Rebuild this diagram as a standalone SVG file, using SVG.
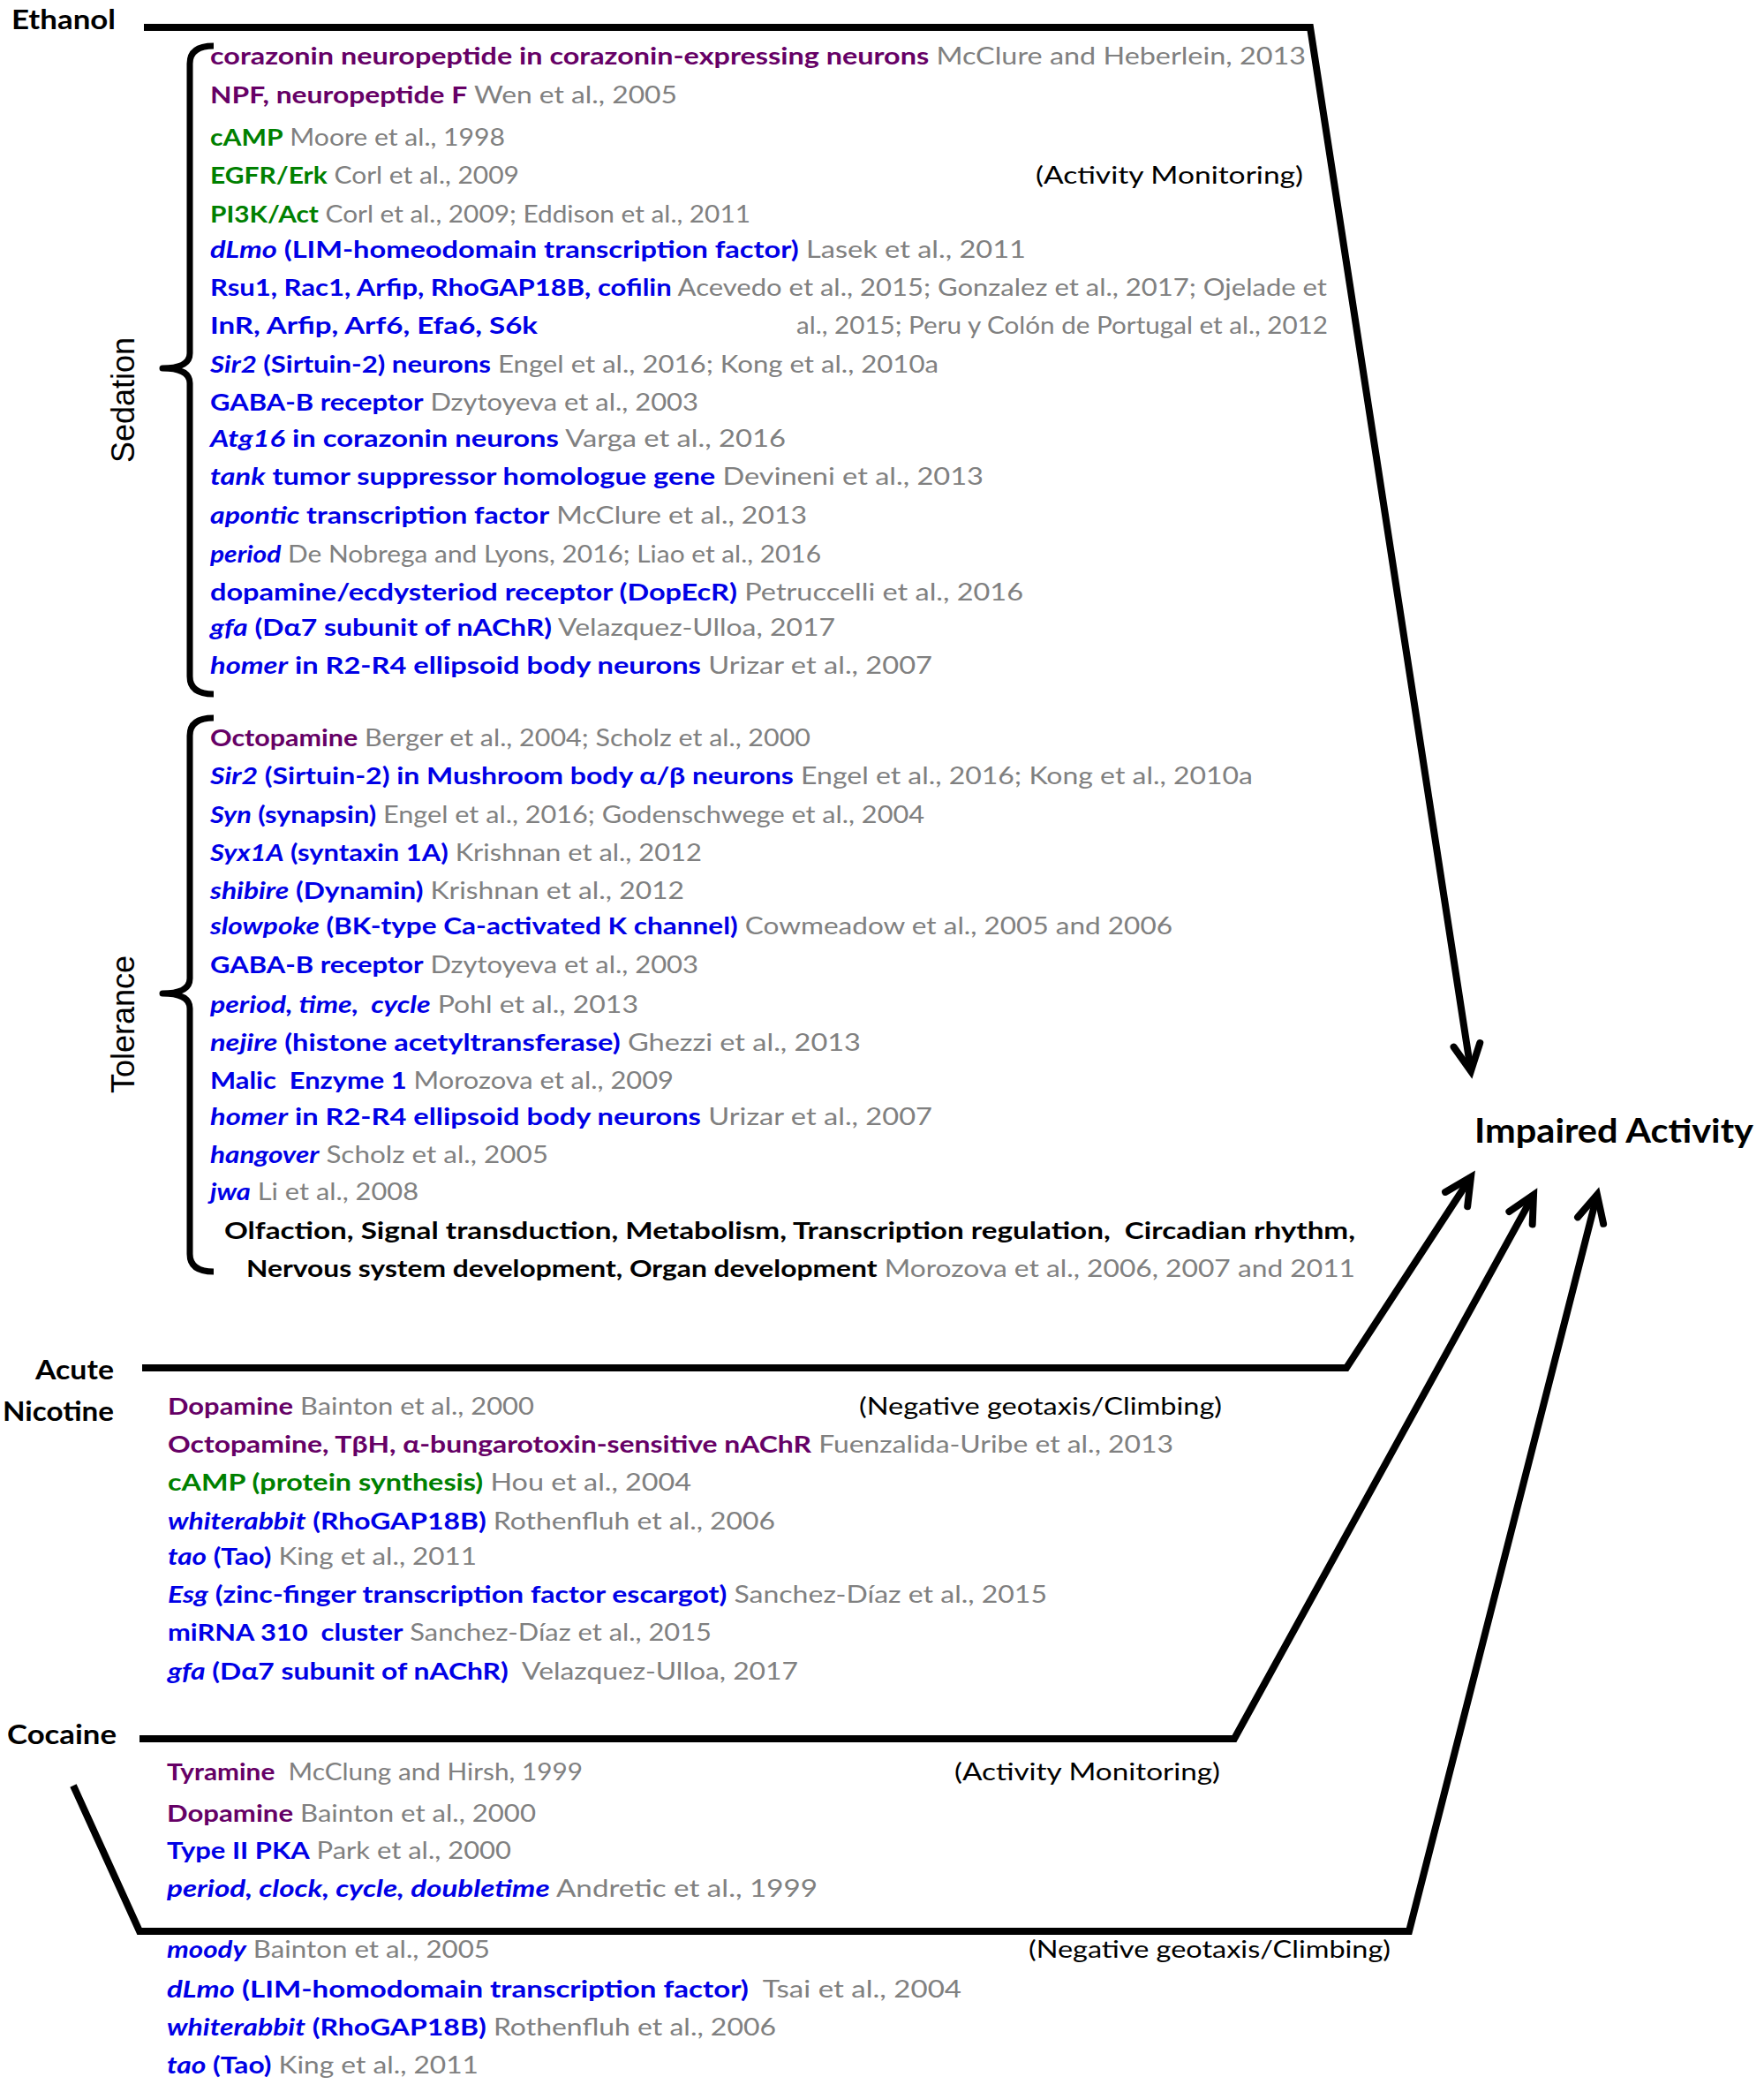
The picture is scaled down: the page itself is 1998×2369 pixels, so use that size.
<svg xmlns="http://www.w3.org/2000/svg" width="1998" height="2369" viewBox="0 0 1998 2369">
<style>
.r{font-family:Lato,"Open Sans","DejaVu Sans",sans-serif;font-size:27px;font-weight:700;fill:#0000e6}
.i{font-style:italic}
.p{fill:#660066}
.g{fill:#008000}
.k{fill:#000}
.c{fill:#808080;font-weight:400;font-style:normal}
.n{fill:#000;font-weight:400}
.lbl{font-family:Lato,"Open Sans","DejaVu Sans",sans-serif;font-size:31px;font-weight:700;fill:#000}
.big{font-family:Lato,"Open Sans","DejaVu Sans",sans-serif;font-size:38px;font-weight:700;fill:#000}
.side{font-family:"Liberation Sans",Arial,sans-serif;font-size:36px;fill:#000;text-anchor:middle}
.br{fill:none;stroke:#000;stroke-width:7;stroke-linejoin:round;stroke-linecap:butt}
.ln{fill:none;stroke:#000;stroke-width:8;stroke-linejoin:miter;stroke-linecap:butt}
</style>
<defs>
<marker id="chev" markerUnits="userSpaceOnUse" viewBox="-40 -30 60 60" markerWidth="60" markerHeight="60" refX="0" refY="0" orient="auto" overflow="visible">
<path d="M-30,-15 L0,0 L-30,15" fill="none" stroke="#000" stroke-width="8" stroke-linecap="round" stroke-linejoin="miter"/>
</marker>
</defs>
<rect width="1998" height="2369" fill="#fff"/>

<g id="connectors">
<polyline class="ln" points="163,31 1484,31 1666,1213" marker-end="url(#chev)"/>
<polyline class="ln" points="161,1549 1525,1549 1666,1333" marker-end="url(#chev)"/>
<polyline class="ln" points="158,1969 1398,1969 1737,1353" marker-end="url(#chev)"/>
<polyline class="ln" points="83,2022 158,2187 1596,2187 1809,1353" marker-end="url(#chev)"/>
</g>

<g id="ethanol">
<text class="lbl" x="13" y="33" textLength="118" lengthAdjust="spacingAndGlyphs">Ethanol</text>
</g>

<g id="sedation">
<path class="br" d="M242,52 Q215,52 215,72 L215,400 Q215,417 184,417 Q215,417 215,434 L215,766 Q215,786 242,786"/>
<text class="side" transform="translate(152,453) rotate(-90)">Sedation</text>
<text class="r" xml:space="preserve" x="238" y="73" textLength="1241" lengthAdjust="spacingAndGlyphs"><tspan class="p">corazonin neuropeptide in corazonin-expressing neurons</tspan><tspan class="c"> McClure and Heberlein, 2013</tspan></text>
<text class="r" xml:space="preserve" x="238" y="117" textLength="529" lengthAdjust="spacingAndGlyphs"><tspan class="p">NPF, neuropeptide F</tspan><tspan class="c"> Wen et al., 2005</tspan></text>
<text class="r" xml:space="preserve" x="238" y="165" textLength="334" lengthAdjust="spacingAndGlyphs"><tspan class="g">cAMP</tspan><tspan class="c"> Moore et al., 1998</tspan></text>
<text class="r" xml:space="preserve" x="238" y="208" textLength="350" lengthAdjust="spacingAndGlyphs"><tspan class="g">EGFR/Erk</tspan><tspan class="c"> Corl et al., 2009</tspan></text>
<text class="r n" x="1173" y="208" textLength="303" lengthAdjust="spacingAndGlyphs">(Activity Monitoring)</text>
<text class="r" xml:space="preserve" x="238" y="252" textLength="612" lengthAdjust="spacingAndGlyphs"><tspan class="g">PI3K/Act</tspan><tspan class="c"> Corl et al., 2009; Eddison et al., 2011</tspan></text>
<text class="r" xml:space="preserve" x="238" y="292" textLength="924" lengthAdjust="spacingAndGlyphs"><tspan class="i">dLmo</tspan><tspan> (LIM-homeodomain transcription factor)</tspan><tspan class="c"> Lasek et al., 2011</tspan></text>
<text class="r" xml:space="preserve" x="238" y="335" textLength="1265" lengthAdjust="spacingAndGlyphs"><tspan>Rsu1, Rac1, Arfip, RhoGAP18B, cofilin</tspan><tspan class="c"> Acevedo et al., 2015; Gonzalez et al., 2017; Ojelade et</tspan></text>
<text class="r" x="238" y="378" textLength="371" lengthAdjust="spacingAndGlyphs">InR, Arfip, Arf6, Efa6, S6k</text>
<text class="r c" x="902" y="378" textLength="602" lengthAdjust="spacingAndGlyphs">al., 2015; Peru y Colón de Portugal et al., 2012</text>
<text class="r" xml:space="preserve" x="238" y="422" textLength="825" lengthAdjust="spacingAndGlyphs"><tspan class="i">Sir2</tspan><tspan> (Sirtuin-2) neurons</tspan><tspan class="c"> Engel et al., 2016; Kong et al., 2010a</tspan></text>
<text class="r" xml:space="preserve" x="238" y="465" textLength="553" lengthAdjust="spacingAndGlyphs"><tspan>GABA-B receptor</tspan><tspan class="c"> Dzytoyeva et al., 2003</tspan></text>
<text class="r" xml:space="preserve" x="238" y="506" textLength="652" lengthAdjust="spacingAndGlyphs"><tspan class="i">Atg16</tspan><tspan> in corazonin neurons</tspan><tspan class="c"> Varga et al., 2016</tspan></text>
<text class="r" xml:space="preserve" x="238" y="549" textLength="876" lengthAdjust="spacingAndGlyphs"><tspan class="i">tank</tspan><tspan> tumor suppressor homologue gene</tspan><tspan class="c"> Devineni et al., 2013</tspan></text>
<text class="r" xml:space="preserve" x="238" y="593" textLength="676" lengthAdjust="spacingAndGlyphs"><tspan class="i">apontic</tspan><tspan> transcription factor</tspan><tspan class="c"> McClure et al., 2013</tspan></text>
<text class="r" xml:space="preserve" x="238" y="637" textLength="692" lengthAdjust="spacingAndGlyphs"><tspan class="i">period</tspan><tspan class="c"> De Nobrega and Lyons, 2016; Liao et al., 2016</tspan></text>
<text class="r" xml:space="preserve" x="238" y="680" textLength="921" lengthAdjust="spacingAndGlyphs"><tspan>dopamine/ecdysteriod receptor (DopEcR)</tspan><tspan class="c"> Petruccelli et al., 2016</tspan></text>
<text class="r" xml:space="preserve" x="238" y="720" textLength="708" lengthAdjust="spacingAndGlyphs"><tspan class="i">gfa</tspan><tspan> (Dα7 subunit of nAChR)</tspan><tspan class="c"> Velazquez-Ulloa, 2017</tspan></text>
<text class="r" xml:space="preserve" x="238" y="763" textLength="818" lengthAdjust="spacingAndGlyphs"><tspan class="i">homer</tspan><tspan> in R2-R4 ellipsoid body neurons</tspan><tspan class="c"> Urizar et al., 2007</tspan></text>
</g>

<g id="tolerance">
<path class="br" d="M242,813 Q215,813 215,833 L215,1108 Q215,1125 184,1125 Q215,1125 215,1142 L215,1420 Q215,1440 242,1440"/>
<text class="side" transform="translate(152,1160) rotate(-90)">Tolerance</text>
<text class="r" xml:space="preserve" x="238" y="845" textLength="680" lengthAdjust="spacingAndGlyphs"><tspan class="p">Octopamine</tspan><tspan class="c"> Berger et al., 2004; Scholz et al., 2000</tspan></text>
<text class="r" xml:space="preserve" x="238" y="888" textLength="1181" lengthAdjust="spacingAndGlyphs"><tspan class="i">Sir2</tspan><tspan> (Sirtuin-2) in Mushroom body α/β neurons</tspan><tspan class="c"> Engel et al., 2016; Kong et al., 2010a</tspan></text>
<text class="r" xml:space="preserve" x="238" y="932" textLength="809" lengthAdjust="spacingAndGlyphs"><tspan class="i">Syn</tspan><tspan> (synapsin)</tspan><tspan class="c"> Engel et al., 2016; Godenschwege et al., 2004</tspan></text>
<text class="r" xml:space="preserve" x="238" y="975" textLength="557" lengthAdjust="spacingAndGlyphs"><tspan class="i">Syx1A</tspan><tspan> (syntaxin 1A)</tspan><tspan class="c"> Krishnan et al., 2012</tspan></text>
<text class="r" xml:space="preserve" x="238" y="1018" textLength="537" lengthAdjust="spacingAndGlyphs"><tspan class="i">shibire</tspan><tspan> (Dynamin)</tspan><tspan class="c"> Krishnan et al., 2012</tspan></text>
<text class="r" xml:space="preserve" x="238" y="1058" textLength="1090" lengthAdjust="spacingAndGlyphs"><tspan class="i">slowpoke</tspan><tspan> (BK-type Ca-activated K channel)</tspan><tspan class="c"> Cowmeadow et al., 2005 and 2006</tspan></text>
<text class="r" xml:space="preserve" x="238" y="1102" textLength="553" lengthAdjust="spacingAndGlyphs"><tspan>GABA-B receptor</tspan><tspan class="c"> Dzytoyeva et al., 2003</tspan></text>
<text class="r" xml:space="preserve" x="238" y="1147" textLength="485" lengthAdjust="spacingAndGlyphs"><tspan class="i">period, time,  cycle</tspan><tspan class="c"> Pohl et al., 2013</tspan></text>
<text class="r" xml:space="preserve" x="238" y="1190" textLength="737" lengthAdjust="spacingAndGlyphs"><tspan class="i">nejire</tspan><tspan> (histone acetyltransferase)</tspan><tspan class="c"> Ghezzi et al., 2013</tspan></text>
<text class="r" xml:space="preserve" x="238" y="1233" textLength="525" lengthAdjust="spacingAndGlyphs"><tspan>Malic  Enzyme 1</tspan><tspan class="c"> Morozova et al., 2009</tspan></text>
<text class="r" xml:space="preserve" x="238" y="1274" textLength="818" lengthAdjust="spacingAndGlyphs"><tspan class="i">homer</tspan><tspan> in R2-R4 ellipsoid body neurons</tspan><tspan class="c"> Urizar et al., 2007</tspan></text>
<text class="r" xml:space="preserve" x="238" y="1317" textLength="383" lengthAdjust="spacingAndGlyphs"><tspan class="i">hangover</tspan><tspan class="c"> Scholz et al., 2005</tspan></text>
<text class="r" xml:space="preserve" x="238" y="1359" textLength="236" lengthAdjust="spacingAndGlyphs"><tspan class="i">jwa</tspan><tspan class="c"> Li et al., 2008</tspan></text>
<text class="r k" xml:space="preserve" x="254" y="1403" textLength="1281" lengthAdjust="spacingAndGlyphs">Olfaction, Signal transduction, Metabolism, Transcription regulation,  Circadian rhythm,</text>
<text class="r k" xml:space="preserve" x="279" y="1446" textLength="1256" lengthAdjust="spacingAndGlyphs"><tspan>Nervous system development, Organ development</tspan><tspan class="c"> Morozova et al., 2006, 2007 and 2011</tspan></text>
</g>

<g id="acute-nicotine">
<text class="lbl" x="40" y="1562" textLength="89" lengthAdjust="spacingAndGlyphs">Acute</text>
<text class="lbl" x="3" y="1609" textLength="126" lengthAdjust="spacingAndGlyphs">Nicotine</text>
<text class="r" xml:space="preserve" x="190" y="1602" textLength="415" lengthAdjust="spacingAndGlyphs"><tspan class="p">Dopamine</tspan><tspan class="c"> Bainton et al., 2000</tspan></text>
<text class="r n" x="973" y="1602" textLength="411" lengthAdjust="spacingAndGlyphs">(Negative geotaxis/Climbing)</text>
<text class="r" xml:space="preserve" x="190" y="1645" textLength="1139" lengthAdjust="spacingAndGlyphs"><tspan class="p">Octopamine, TβH, α-bungarotoxin-sensitive nAChR</tspan><tspan class="c"> Fuenzalida-Uribe et al., 2013</tspan></text>
<text class="r" xml:space="preserve" x="190" y="1688" textLength="593" lengthAdjust="spacingAndGlyphs"><tspan class="g">cAMP (protein synthesis)</tspan><tspan class="c"> Hou et al., 2004</tspan></text>
<text class="r" xml:space="preserve" x="190" y="1732" textLength="688" lengthAdjust="spacingAndGlyphs"><tspan class="i">whiterabbit</tspan><tspan> (RhoGAP18B)</tspan><tspan class="c"> Rothenfluh et al., 2006</tspan></text>
<text class="r" xml:space="preserve" x="190" y="1772" textLength="350" lengthAdjust="spacingAndGlyphs"><tspan class="i">tao</tspan><tspan> (Tao)</tspan><tspan class="c"> King et al., 2011</tspan></text>
<text class="r" xml:space="preserve" x="190" y="1815" textLength="996" lengthAdjust="spacingAndGlyphs"><tspan class="i">Esg</tspan><tspan> (zinc-finger transcription factor escargot)</tspan><tspan class="c"> Sanchez-Díaz et al., 2015</tspan></text>
<text class="r" xml:space="preserve" x="190" y="1858" textLength="616" lengthAdjust="spacingAndGlyphs"><tspan>miRNA 310  cluster</tspan><tspan class="c"> Sanchez-Díaz et al., 2015</tspan></text>
<text class="r" xml:space="preserve" x="190" y="1902" textLength="714" lengthAdjust="spacingAndGlyphs"><tspan class="i">gfa</tspan><tspan> (Dα7 subunit of nAChR)</tspan><tspan class="c">  Velazquez-Ulloa, 2017</tspan></text>
</g>

<g id="cocaine">
<text class="lbl" x="8" y="1975" textLength="124" lengthAdjust="spacingAndGlyphs">Cocaine</text>
<text class="r" xml:space="preserve" x="189" y="2016" textLength="471" lengthAdjust="spacingAndGlyphs"><tspan class="p">Tyramine</tspan><tspan class="c">  McClung and Hirsh, 1999</tspan></text>
<text class="r n" x="1081" y="2016" textLength="301" lengthAdjust="spacingAndGlyphs">(Activity Monitoring)</text>
<text class="r" xml:space="preserve" x="189" y="2063" textLength="418" lengthAdjust="spacingAndGlyphs"><tspan class="p">Dopamine</tspan><tspan class="c"> Bainton et al., 2000</tspan></text>
<text class="r" xml:space="preserve" x="189" y="2105" textLength="390" lengthAdjust="spacingAndGlyphs"><tspan>Type II PKA</tspan><tspan class="c"> Park et al., 2000</tspan></text>
<text class="r" xml:space="preserve" x="189" y="2148" textLength="737" lengthAdjust="spacingAndGlyphs"><tspan class="i">period, clock, cycle, doubletime</tspan><tspan class="c"> Andretic et al., 1999</tspan></text>
<text class="r" xml:space="preserve" x="189" y="2217" textLength="366" lengthAdjust="spacingAndGlyphs"><tspan class="i">moody</tspan><tspan class="c"> Bainton et al., 2005</tspan></text>
<text class="r n" x="1165" y="2217" textLength="410" lengthAdjust="spacingAndGlyphs">(Negative geotaxis/Climbing)</text>
<text class="r" xml:space="preserve" x="189" y="2262" textLength="900" lengthAdjust="spacingAndGlyphs"><tspan class="i">dLmo</tspan><tspan> (LIM-homodomain transcription factor)</tspan><tspan class="c">  Tsai et al., 2004</tspan></text>
<text class="r" xml:space="preserve" x="189" y="2305" textLength="690" lengthAdjust="spacingAndGlyphs"><tspan class="i">whiterabbit</tspan><tspan> (RhoGAP18B)</tspan><tspan class="c"> Rothenfluh et al., 2006</tspan></text>
<text class="r" xml:space="preserve" x="189" y="2348" textLength="353" lengthAdjust="spacingAndGlyphs"><tspan class="i">tao</tspan><tspan> (Tao)</tspan><tspan class="c"> King et al., 2011</tspan></text>
</g>

<g id="impaired-activity">
<text class="big" x="1670" y="1294" textLength="316" lengthAdjust="spacingAndGlyphs">Impaired Activity</text>
</g>
</svg>
